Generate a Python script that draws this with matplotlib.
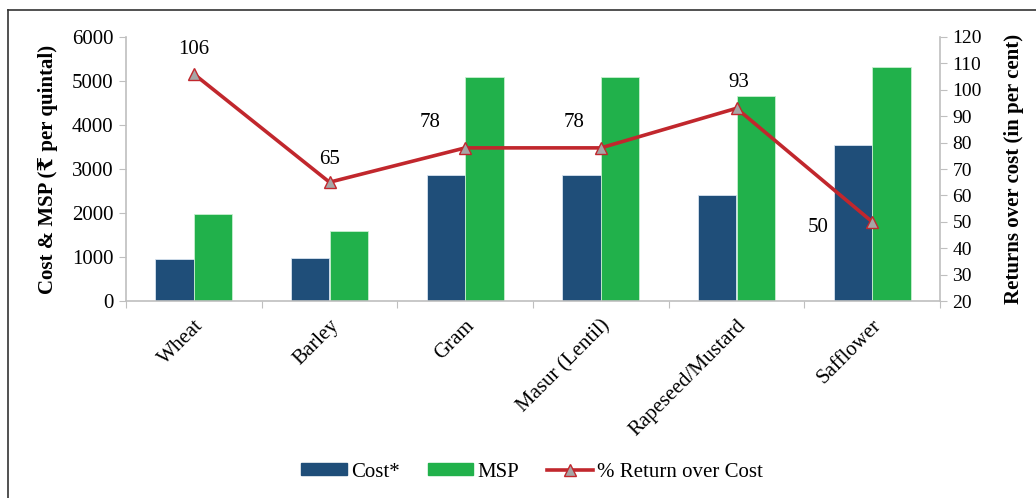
import matplotlib
matplotlib.use("Agg")
import matplotlib.pyplot as plt
import numpy as np
from matplotlib.lines import Line2D

plt.rcParams['font.family'] = ['Liberation Serif', 'DejaVu Serif', 'DejaVu Sans']

crops = ["Wheat", "Barley", "Gram", "Masur (Lentil)", "Rapeseed/Mustard", "Safflower"]
cost = [960, 971, 2866, 2864, 2415, 3551]
msp = [1975, 1600, 5100, 5100, 4650, 5327]
returns = [106, 65, 78, 78, 93, 50]
left_ticks = [0, 1000, 2000, 3000, 4000, 5000, 6000]
right_ticks = list(range(20, 121, 10))

c_cost = "#1F4E79"
c_msp = "#21B14B"
c_line = "#C1272D"
c_grey = "#BFBFBF"
FS = 15

fig = plt.figure(figsize=(10.36, 4.98), dpi=100)
ax = fig.add_axes([126/1036, 1-301/498, (940-126)/1036, (301-37)/498])
x = np.arange(len(crops))
w = 0.285
ax.bar(x - w/2, cost, w, color=c_cost, edgecolor="#d8e4f0", linewidth=0.6, label="Cost*")
ax.bar(x + w/2, msp, w, color=c_msp, edgecolor="#c8f0d0", linewidth=0.6, label="MSP")
ax.set_xlim(-0.5, len(crops) - 0.5)
ax.set_ylim(0, 6000)
ax.set_yticks(left_ticks)
ax.set_yticklabels([str(v) for v in left_ticks], fontsize=FS)
ax.set_xticks(np.arange(len(crops) + 1) - 0.5, minor=False)
ax.set_xticklabels([])
ax.set_xticks(x, minor=True)
ax.set_xticklabels(crops, minor=True, rotation=45, ha='right', va='top',
                   rotation_mode='anchor', fontsize=FS)
ax.tick_params(axis='x', which='minor', length=0, pad=11)
ax.tick_params(axis='x', which='major', length=5, color=c_grey, direction='out')
ax.tick_params(axis='y', length=5, color=c_grey, direction='out', pad=4)
for s in ['top', 'right']:
    ax.spines[s].set_visible(False)
for s in ['left', 'bottom']:
    ax.spines[s].set_color(c_grey)
    ax.spines[s].set_linewidth(1.2)
ax.set_ylabel("Cost & MSP (₹ per quintal)", fontsize=FS, fontweight='bold', labelpad=10)

ax2 = ax.twinx()
ax2.plot(x, returns, color=c_line, linewidth=2.6, marker='^', markersize=9,
         markerfacecolor="#A6A6A6", markeredgecolor=c_line, markeredgewidth=1.0,
         label="% Return over Cost")
ax2.set_ylim(20, 120)
ax2.set_yticks(right_ticks)
ax2.set_yticklabels([str(v) for v in right_ticks], fontsize=14)
ax2.tick_params(axis='y', length=5, color=c_grey, direction='out', pad=4)
for s in ['top', 'left', 'bottom']:
    ax2.spines[s].set_visible(False)
ax2.spines['right'].set_color(c_grey)
ax2.spines['right'].set_linewidth(1.2)
ax2.set_ylabel("Returns over cost (in per cent)", fontsize=FS, fontweight='bold', labelpad=16)

offsets = [(0, 17.5), (0, 16.5), (-25, 18.5), (-19, 18.5), (1.5, 18.5), (-39, -4)]
for xi, r, off in zip(x, returns, offsets):
    ax2.annotate(str(r), (xi, r), xytext=off, textcoords='offset points',
                 ha='center', va='center', fontsize=FS)

handles = [
    plt.Rectangle((0, 0), 1, 1, color=c_cost),
    plt.Rectangle((0, 0), 1, 1, color=c_msp),
    Line2D([0], [0], color=c_line, linewidth=2.6, marker='^', markersize=9,
           markerfacecolor="#A6A6A6", markeredgecolor=c_line),
]
fig.legend(handles, ["Cost*", "MSP", "% Return over Cost"], loc='center',
           bbox_to_anchor=(532/1036, 1 - 472/498), ncol=3, frameon=False, fontsize=FS,
           handlelength=2.2, handleheight=0.5, handletextpad=0.2, columnspacing=1.35)

fig.add_artist(Line2D([8/1036, 8/1036], [0, 1 - 10/498], color='#333333', linewidth=1.2))
fig.add_artist(Line2D([8/1036, 1], [1 - 10/498, 1 - 10/498], color='#333333', linewidth=1.2))

fig.savefig("out.png", dpi=100)
